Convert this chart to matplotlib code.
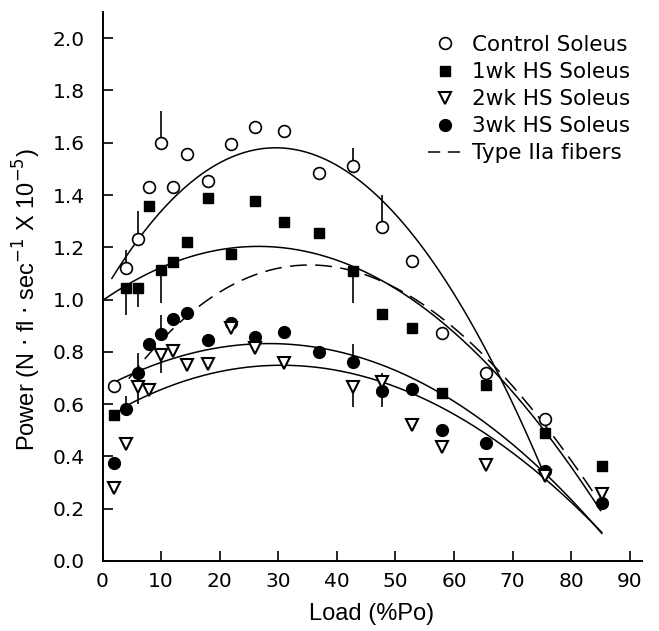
import matplotlib
matplotlib.use("Agg")
import matplotlib.pyplot as plt
import numpy as np
from matplotlib import font_manager
from matplotlib.lines import Line2D

nan = np.nan

# loads (%Po) where measurements were taken
LOAD = [2, 4, 6, 8, 10, 12, 14.5, 18, 22, 26, 31, 37, 42.7, 47.7, 52.8, 57.9, 65.5, 75.5, 85.2]

CONTROL = [0.67, 1.12, 1.23, 1.43, 1.60, 1.43, 1.555, 1.455, 1.595, 1.66, 1.645, 1.483,
           1.51, 1.276, 1.147, 0.873, 0.718, 0.543, nan]
WK1 = [0.558, 1.043, 1.043, 1.358, 1.113, 1.145, 1.22, 1.389, 1.174, 1.377, 1.295, 1.253,
       1.11, 0.943, 0.89, 0.641, 0.673, 0.49, 0.363]
WK2 = [0.28, 0.447, 0.667, 0.654, 0.788, 0.804, 0.75, 0.752, 0.89, 0.813, 0.756, nan,
       0.667, 0.686, 0.52, 0.437, 0.367, 0.325, 0.255]
WK3 = [0.374, 0.58, 0.72, 0.83, 0.87, 0.924, 0.947, 0.845, 0.909, 0.855, 0.876, 0.80,
       0.76, 0.65, 0.657, 0.503, 0.452, 0.345, 0.22]

# one-sided error bars: load, end of the bar
CTRL_BAR_AT = [4, 6, 10, 42.7, 47.7]
CTRL_BAR_TO = [1.19, 1.34, 1.72, 1.58, 1.40]
WK1_BAR_AT = [4, 6, 10, 42.7]
WK1_BAR_TO = [0.94, 0.97, 0.985, 0.985]
WK2_BAR_AT = [6, 10, 42.7, 47.7]
WK2_BAR_TO = [0.60, 0.72, 0.59, 0.72]
WK3_BAR_AT = [4, 6, 10, 42.7, 47.7]
WK3_BAR_TO = [0.63, 0.795, 0.94, 0.83, 0.59]

# points
CTRL_FIT_X = [1.6, 6, 10.1, 15.8, 21.5, 29.4, 35.7, 42.5, 46.5, 52.5, 58.2, 64.1, 75.5]
CTRL_FIT_Y = [1.087, 1.228, 1.33, 1.463, 1.54, 1.574, 1.553, 1.489, 1.419, 1.266, 1.075, 0.845, 0.335]
WK1_FIT_X = [0, 4.4, 10.1, 15.8, 26, 30.3, 34, 42.8, 49.1, 55.9, 66.7, 75.5, 83.8, 85]
WK1_FIT_Y = [1.0, 1.049, 1.125, 1.177, 1.205, 1.2, 1.189, 1.113, 1.049, 0.96, 0.737, 0.488, 0.233, 0.195]
WK3_FIT_X = [1.85, 6, 12.9, 21.5, 28.3, 37.4, 43.9, 46.5, 57.9, 66.7, 75.5, 85.2]
WK3_FIT_Y = [0.68, 0.718, 0.794, 0.826, 0.83, 0.807, 0.775, 0.756, 0.641, 0.514, 0.335, 0.103]
WK2_FIT_X = [4.2, 10.1, 18.6, 30, 38.5, 43.9, 46.5, 53, 61, 69.5, 75.5, 85.2]
WK2_FIT_Y = [0.59, 0.66, 0.724, 0.75, 0.73, 0.711, 0.695, 0.628, 0.546, 0.431, 0.322, 0.103]
IIA_FIT_X = [4.5, 10.1, 15.8, 21.5, 30, 38.5, 43.9, 49.6, 55.3, 61, 68.4, 78.1, 83.8]
IIA_FIT_Y = [0.69, 0.852, 0.972, 1.049, 1.106, 1.115, 1.12, 1.049, 0.972, 0.883, 0.692, 0.45, 0.259]

X_TICKS = [0, 10, 20, 30, 40, 50, 60, 70, 80, 90]
Y_TICKS = [0.0, 0.2, 0.4, 0.6, 0.8, 1.0, 1.2, 1.4, 1.6, 1.8, 2.0]


def pick_font(*names):
    have = {f.name for f in font_manager.fontManager.ttflist}
    for name in names:
        if name in have:
            return name
    return "DejaVu Sans"


def smooth_curve(xs, ys, deg=3):
    coef = np.polyfit(xs, ys, deg)
    xx = np.linspace(min(xs), max(xs), 200)
    return xx, np.polyval(coef, xx)


label_font = pick_font("Liberation Sans Narrow", "Liberation Sans")

fig = plt.figure(figsize=(6.59, 6.31), dpi=100)
ax = fig.add_axes([102.5 / 659, 1 - 561 / 631, (641.6 - 102.5) / 659, (561 - 12) / 631])

line_kw = dict(color="black", lw=1.1)
for xs, ys in [(CTRL_FIT_X, CTRL_FIT_Y), (WK1_FIT_X, WK1_FIT_Y),
               (WK2_FIT_X, WK2_FIT_Y), (WK3_FIT_X, WK3_FIT_Y)]:
    xx, yy = smooth_curve(xs, ys)
    ax.plot(xx, yy, **line_kw)
xx, yy = smooth_curve(IIA_FIT_X, IIA_FIT_Y)
ax.plot(xx, yy, color="black", lw=1.1, dashes=(11, 5.5))

# error bars
load_idx = {v: i for i, v in enumerate(LOAD)}
for vals, at, to in [(CONTROL, CTRL_BAR_AT, CTRL_BAR_TO), (WK1, WK1_BAR_AT, WK1_BAR_TO),
                     (WK2, WK2_BAR_AT, WK2_BAR_TO), (WK3, WK3_BAR_AT, WK3_BAR_TO)]:
    starts = [vals[load_idx[a]] for a in at]
    ax.vlines(at, starts, to, color="black", lw=1.2)

ax.plot(LOAD, WK1, "s", ms=7.5, mfc="black", mec="black", ls="none")
ax.plot(LOAD, WK3, "o", ms=8.5, mfc="black", mec="black", ls="none")
ax.plot(LOAD, WK2, "v", ms=8.5, mfc="white", mec="black", mew=1.5, ls="none")
ax.plot(LOAD, CONTROL, "o", ms=8.5, mfc="white", mec="black", mew=1.2, ls="none")

ax.set_xlim(0, 92)
ax.set_ylim(0, 2.1)
ax.set_xticks(X_TICKS)
ax.set_yticks(Y_TICKS)
ax.set_yticklabels([f"{t:.1f}" for t in Y_TICKS])
ax.spines["top"].set_visible(False)
ax.spines["right"].set_visible(False)
for s in ("left", "bottom"):
    ax.spines[s].set_linewidth(1.4)
ax.tick_params(direction="in", length=7, width=1.2, labelsize=14.5)
ax.tick_params(axis="y", pad=13)
ax.tick_params(axis="x", pad=8)

fig.text(372 / 659, 1 - 614 / 631, "Load (%Po)", ha="center", va="center",
         fontsize=17, family=label_font)
fig.text(27 / 659, 1 - 300 / 631, r"Power (N $\cdot$ fl $\cdot$ sec$^{-1}$ X 10$^{-5}$)",
         ha="center", va="center", rotation=90, fontsize=17, family=label_font)

handles = [
    Line2D([], [], marker="o", ls="none", ms=8.5, mfc="white", mec="black", mew=1.2),
    Line2D([], [], marker="s", ls="none", ms=7.5, mfc="black", mec="black"),
    Line2D([], [], marker="v", ls="none", ms=8.5, mfc="white", mec="black", mew=1.5),
    Line2D([], [], marker="o", ls="none", ms=8.5, mfc="black", mec="black"),
    Line2D([], [], color="black", lw=1.1, dashes=(8, 5)),
]
labels = ["Control Soleus", "1wk HS Soleus", "2wk HS Soleus", "3wk HS Soleus", "Type IIa fibers"]
ax.legend(handles, labels, loc="upper left", bbox_to_anchor=(428 / 659, 1 - 35 / 631),
          bbox_transform=fig.transFigure, frameon=False, fontsize=15.5,
          handlelength=1.6, handletextpad=0.45, labelspacing=0.33, borderpad=0, borderaxespad=0)

fig.savefig("out.png", dpi=100)
